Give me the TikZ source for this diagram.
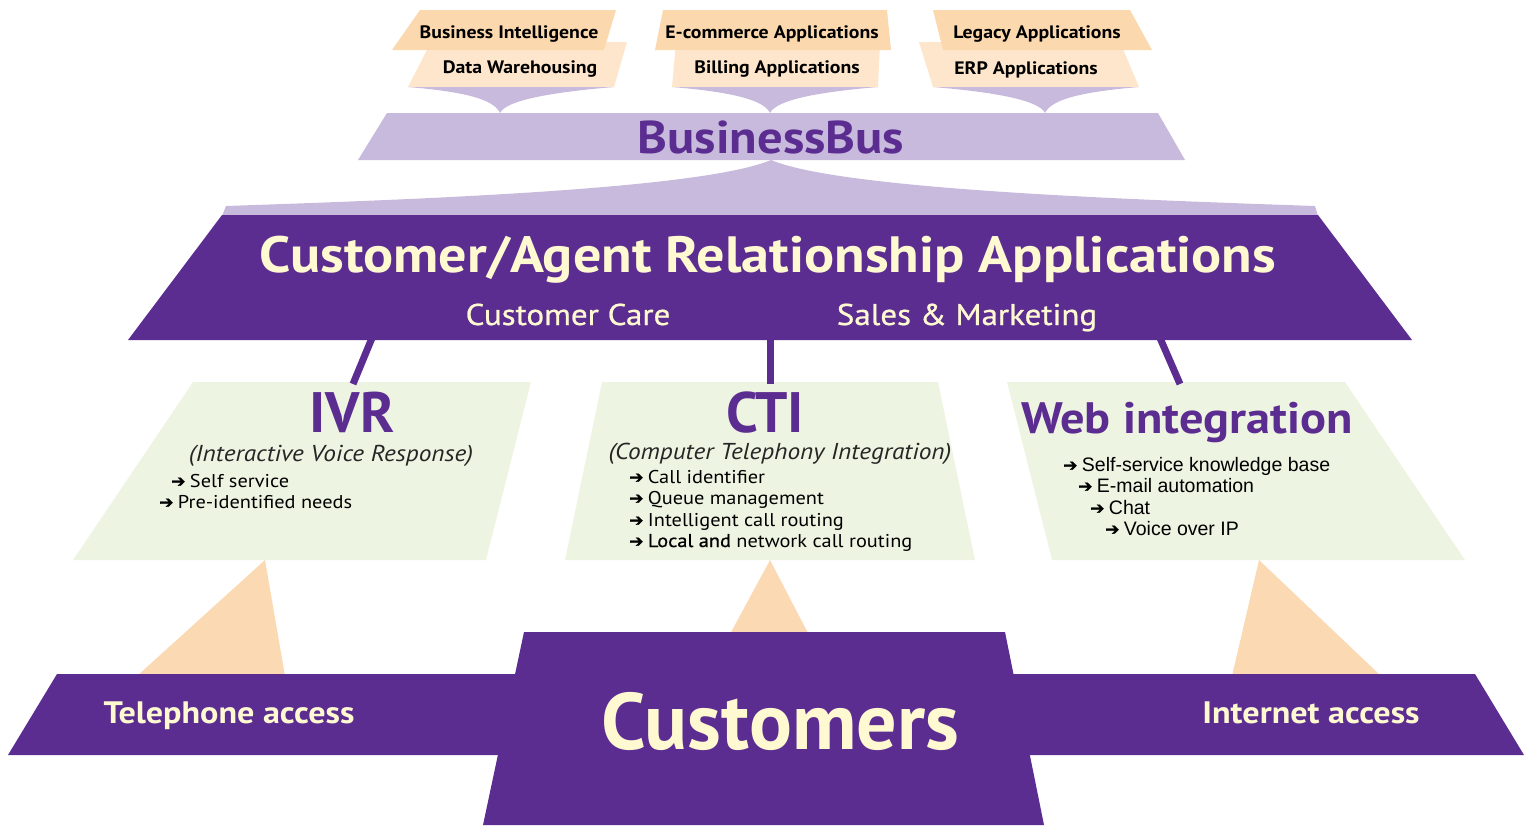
\documentclass[tikz,border=0pt]{standalone}
\usepackage{fontspec}
\setmainfont[FakeStretch=1.1]{PT Sans}
\newfontfamily\narrowfont{PT Sans}
\newfontfamily\medfont[FakeStretch=1.1,FakeBold=0.8]{PT Sans}
\newfontfamily\listfont{Liberation Sans}
\newfontfamily\symfont[FakeBold=1.2]{DejaVu Sans}

\definecolor{crapurple}{HTML}{5C2D91}
\definecolor{buslilac}{HTML}{C8BADC}
\definecolor{capcream}{HTML}{FFF9D2}
\definecolor{tagdark}{HTML}{FBD8AE}
\definecolor{taglight}{HTML}{FDE6CB}
\definecolor{channelgreen}{HTML}{EEF4E2}
\definecolor{accesspeach}{HTML}{FBD9B2}

\newcommand{\bularrow}{{\symfont\fontsize{17}{17}\selectfont ➔}\hspace{4.5pt}}

\begin{document}
\begin{tikzpicture}[x=1pt,y=-1pt]
\tikzset{
  taglabel/.style={anchor=base, inner sep=0pt, font=\bfseries\fontsize{18}{20}\selectfont},
  captitle/.style={anchor=base, inner sep=0pt, text=capcream, font=\bfseries\fontsize{#1}{#1}\selectfont},
  capsub/.style={anchor=base, inner sep=0pt, text=capcream, font=\medfont\fontsize{30}{30}\selectfont},
  chantitle/.style={anchor=base, inner sep=0pt, text=crapurple, font=\bfseries\fontsize{#1}{#1}\selectfont},
  chansub/.style={anchor=base, inner sep=0pt, text=black!85, font=\itshape\fontsize{23}{23}\selectfont},
  bulitem/.style={anchor=base west, inner sep=0pt, font=\fontsize{18.5}{19}\selectfont},
  link/.style={crapurple, line width=7pt}
}
\useasboundingbox (0,0) rectangle (1530,825);

% application tags and their funnels into the bus
\foreach \bl/\tl/\tr/\br/\fbl/\ftl/\ftr/\fbr/\tip in {392/420/616/604/408/431/627/614/500,
    655/663/887/891/672/676/880/878/770, 943/933/1130/1152/933/919/1120/1139/1045} {
  \fill[taglight] (\fbl,87) -- (\ftl,42) -- (\ftr,42) -- (\fbr,87) -- cycle;
  \fill[tagdark] (\bl,50) -- (\tl,10) -- (\tr,10) -- (\br,50) -- cycle;
  \fill[buslilac] (\fbl,87) -- (\fbr,87) .. controls (\fbr-60,92) and (\tip+6,100) .. (\tip,113)
    .. controls (\tip-6,100) and (\fbl+60,92) .. cycle;
}
\node[taglabel] (bi) at (509,38) {Business Intelligence};
\node[taglabel] (dw) at (520,73) {Data Warehousing};
\node[taglabel] (ecom) at (772,38) {E-commerce Applications};
\node[taglabel] (billing) at (777,73) {Billing Applications};
\node[taglabel] (legacy) at (1037,38) {Legacy Applications};
\node[taglabel] (erp) at (1026,74) {ERP Applications};

% bus
\fill[buslilac] (387,113) -- (1158,113) -- (1185,160) -- (358,160) -- cycle;
\node[chantitle=46] (bus) at (771,153) {BusinessBus};
\fill[buslilac] (771,160) .. controls (700,190) and (400,200) .. (226,206) -- (222,216)
  -- (1318,216) -- (1315,206) .. controls (1142,200) and (842,190) .. (771,160) -- cycle;

% relationship applications
\fill[crapurple] (222,215) -- (1318,215) -- (1412,340) -- (128,340) -- cycle;
\node[captitle=51] (cra) at (768,272) {Customer/Agent Relationship Applications};
\node[capsub] (care) at (568,325) {Customer Care};
\node[capsub] (sales) at (967,325) {Sales \& Marketing};
\coordinate (cra-ivr) at (372,338);
\coordinate (cra-cti) at (770,338);
\coordinate (cra-web) at (1160,338);

% channels
\fill[channelgreen] (193,382) -- (531,382) -- (486,560) -- (73,560) -- cycle;
\fill[channelgreen] (602,382) -- (938,382) -- (975,560) -- (565,560) -- cycle;
\fill[channelgreen] (1007,382) -- (1345,382) -- (1465,560) -- (1052,560) -- cycle;
\coordinate (ivr-top) at (353,384);
\coordinate (cti-top) at (770,384);
\coordinate (web-top) at (1180,384);
\draw[link] (cra-ivr) -- (ivr-top);
\draw[link] (cra-cti) -- (cti-top);
\draw[link] (cra-web) -- (web-top);

\node[chantitle=57, font=\narrowfont\bfseries\fontsize{57}{57}\selectfont] (ivr) at (352,432) {IVR};
\node[chansub] (ivr-sub) at (331,461) {(Interactive Voice Response)};
\foreach \x/\y/\txt [count=\i] in {171/487/Self service, 159/508/Pre-identified needs}
  \node[bulitem] (ivr-item-\i) at (\x,\y) {\bularrow\txt};

\node[chantitle=57, font=\narrowfont\bfseries\fontsize{57}{57}\selectfont] (cti) at (765,432) {CTI};
\node[chansub] (cti-sub) at (780,459) {(Computer Telephony Integration)};
\foreach \y/\txt [count=\i] in {483/Call identifier, 504/Queue management,
    526/Intelligent call routing, 547/{\medfont Local and} network call routing}
  \node[bulitem] (cti-item-\i) at (629,\y) {\bularrow\txt};

\node[chantitle=44] (web) at (1187,433) {Web integration};
\foreach \x/\y/\txt [count=\i] in {1063/471/Self-service knowledge base, 1078/492/E-mail automation,
    1090/514/Chat, 1105/535/Voice over IP}
  \node[bulitem, font=\listfont\fontsize{19.5}{20}\selectfont] (web-item-\i) at (\x,\y) {\bularrow\txt};

% access paths
\fill[accesspeach] (265,560) -- (285,676) -- (137,676) -- cycle;
\fill[accesspeach] (770,560) -- (822,660) -- (716,660) -- cycle;
\fill[accesspeach] (1259,560) -- (1381,676) -- (1232,676) -- cycle;

% customers
\fill[crapurple] (57,674) -- (1475,674) -- (1524,755) -- (8,755) -- cycle;
\fill[crapurple] (524,632) -- (1005,632) -- (1044,825) -- (483,825) -- cycle;
\node[captitle=31] (phone) at (229,723) {Telephone access};
\node[captitle=31] (internet) at (1311,723) {Internet access};
\node[captitle=80, font=\narrowfont\bfseries\fontsize{80}{80}\selectfont] (customers) at (780,749) {Customers};
\end{tikzpicture}
\end{document}
